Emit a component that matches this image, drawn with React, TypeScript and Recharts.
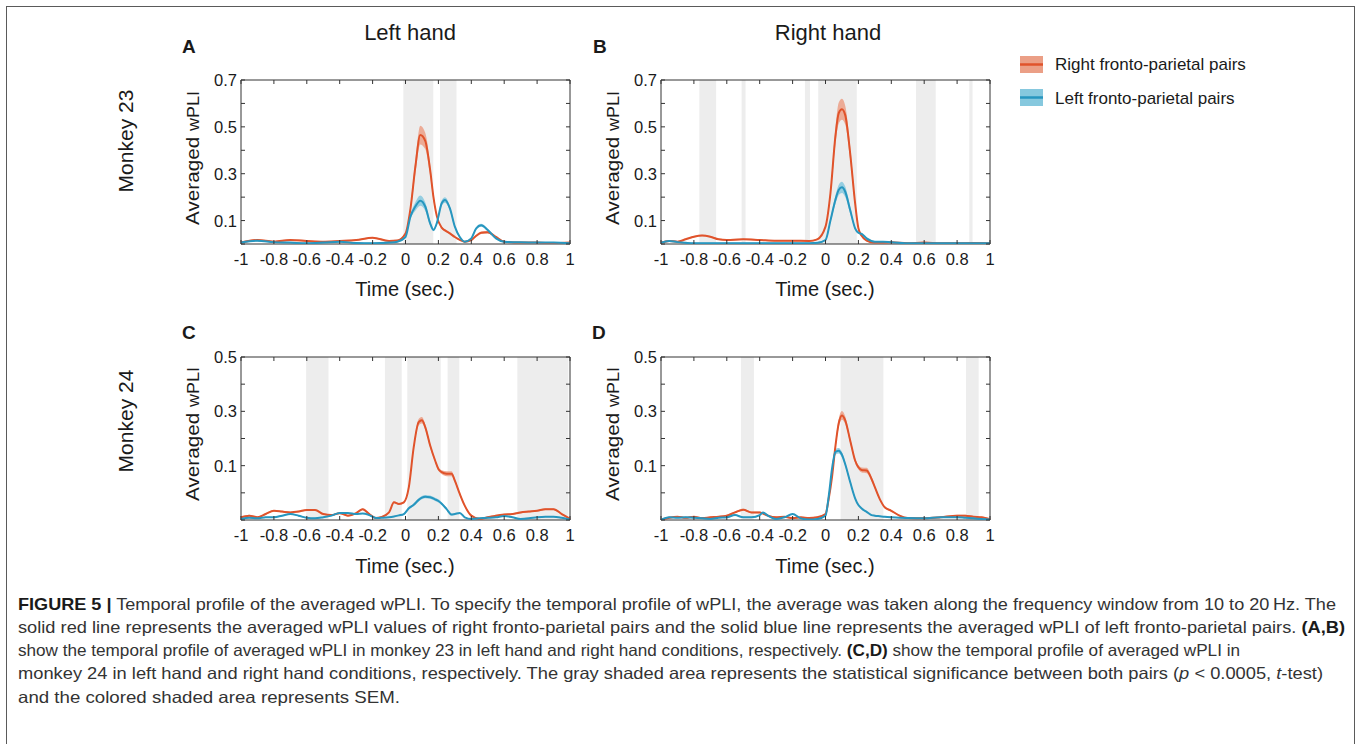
import React from 'react';
import { ComposedChart, Line, Area, XAxis, YAxis, ReferenceArea } from 'recharts';

// axis ticks
const xTicks = [-1, -0.8, -0.6, -0.4, -0.2, 0, 0.2, 0.4, 0.6, 0.8, 1];
const yTicksTop = [0, 0.1, 0.2, 0.3, 0.4, 0.5, 0.6, 0.7];
const yLabelsTop = [0.1, 0.3, 0.5, 0.7];
const yTicksBottom = [-0.1, 0, 0.1, 0.2, 0.3, 0.4, 0.5];
const yLabelsBottom = [0.1, 0.3, 0.5];

// Panel A: monkey 23, left hand
const tA = [-1, -0.9, -0.8, -0.7, -0.6, -0.5, -0.4, -0.3, -0.2, -0.1, -0.05, 0, 0.03, 0.06, 0.09, 0.12, 0.15, 0.17, 0.19, 0.22, 0.24, 0.27, 0.3, 0.33, 0.36, 0.4, 0.43, 0.46, 0.5, 0.55, 0.6, 0.7, 0.8, 0.9, 1];
const redA = [0.006, 0.017, 0.01, 0.017, 0.013, 0.01, 0.013, 0.017, 0.027, 0.013, 0.015, 0.045, 0.15, 0.33, 0.465, 0.44, 0.315, 0.2, 0.12, 0.07, 0.058, 0.045, 0.03, 0.018, 0.01, 0.017, 0.035, 0.048, 0.05, 0.03, 0.01, 0.006, 0.006, 0.003, 0.006];
const semRedA = [0.003, 0.003, 0.003, 0.003, 0.003, 0.003, 0.003, 0.003, 0.003, 0.003, 0.003, 0.004, 0.015, 0.03, 0.04, 0.035, 0.025, 0.012, 0.008, 0.005, 0.004, 0.004, 0.003, 0.003, 0.003, 0.003, 0.004, 0.005, 0.005, 0.004, 0.003, 0.003, 0.003, 0.003, 0.003];
const blueA = [0.006, 0.014, 0.008, 0.006, 0.003, 0.006, 0.01, 0.004, 0.003, 0.006, 0.01, 0.03, 0.117, 0.16, 0.185, 0.16, 0.088, 0.06, 0.088, 0.174, 0.188, 0.152, 0.074, 0.03, 0.01, 0.024, 0.067, 0.08, 0.06, 0.024, 0.01, 0.007, 0.006, 0.006, 0.003];
const semBlueA = [0.003, 0.003, 0.003, 0.003, 0.003, 0.003, 0.003, 0.003, 0.003, 0.003, 0.003, 0.003, 0.01, 0.018, 0.022, 0.018, 0.01, 0.006, 0.008, 0.012, 0.012, 0.01, 0.006, 0.004, 0.003, 0.003, 0.005, 0.006, 0.005, 0.003, 0.003, 0.003, 0.003, 0.003, 0.003];
const shadeA = [[-0.013, 0.169], [0.21, 0.31]];

// Panel B: monkey 23, right hand
const tB = [-1, -0.95, -0.9, -0.85, -0.8, -0.75, -0.7, -0.65, -0.6, -0.5, -0.4, -0.3, -0.2, -0.1, -0.05, 0, 0.03, 0.06, 0.08, 0.1, 0.12, 0.15, 0.18, 0.2, 0.22, 0.25, 0.3, 0.35, 0.4, 0.5, 0.6, 0.7, 0.8, 0.9, 1];
const redB = [0.006, 0.013, 0.01, 0.02, 0.031, 0.036, 0.031, 0.02, 0.017, 0.02, 0.017, 0.014, 0.014, 0.013, 0.02, 0.074, 0.216, 0.458, 0.558, 0.575, 0.55, 0.387, 0.174, 0.067, 0.035, 0.015, 0.006, 0.006, 0.007, 0.003, 0.006, 0.003, 0.003, 0.004, 0.003];
const semRedB = [0.003, 0.003, 0.003, 0.003, 0.003, 0.003, 0.003, 0.003, 0.003, 0.003, 0.003, 0.003, 0.003, 0.003, 0.003, 0.005, 0.015, 0.035, 0.045, 0.045, 0.04, 0.03, 0.012, 0.006, 0.004, 0.003, 0.003, 0.003, 0.003, 0.003, 0.003, 0.003, 0.003, 0.003, 0.003];
const blueB = [0.006, 0.013, 0.008, 0.005, 0.003, 0.003, 0.003, 0.003, 0.003, 0.003, 0.003, 0.003, 0.003, 0.003, 0.005, 0.017, 0.1, 0.188, 0.23, 0.242, 0.223, 0.145, 0.067, 0.048, 0.043, 0.024, 0.01, 0.01, 0.007, 0.003, 0.003, 0.003, 0.003, 0.003, 0.003];
const semBlueB = [0.003, 0.003, 0.003, 0.003, 0.003, 0.003, 0.003, 0.003, 0.003, 0.003, 0.003, 0.003, 0.003, 0.003, 0.003, 0.003, 0.01, 0.018, 0.022, 0.024, 0.022, 0.015, 0.006, 0.004, 0.003, 0.003, 0.003, 0.003, 0.003, 0.003, 0.003, 0.003, 0.003, 0.003, 0.003];
const shadeB = [[-0.767, -0.665], [-0.51, -0.486], [-0.125, -0.094], [-0.044, 0.19], [0.55, 0.67], [0.874, 0.894]];

// Panel C: monkey 24, left hand
const tC = [-1, -0.95, -0.9, -0.85, -0.8, -0.75, -0.7, -0.65, -0.6, -0.55, -0.5, -0.45, -0.4, -0.35, -0.3, -0.26, -0.22, -0.18, -0.15, -0.1, -0.07, -0.04, -0.01, 0.02, 0.05, 0.08, 0.1, 0.12, 0.15, 0.18, 0.2, 0.22, 0.25, 0.28, 0.3, 0.33, 0.36, 0.4, 0.45, 0.5, 0.55, 0.6, 0.65, 0.7, 0.75, 0.8, 0.85, 0.9, 0.95, 1];
const redC = [-0.09, -0.084, -0.09, -0.078, -0.066, -0.069, -0.072, -0.069, -0.063, -0.063, -0.078, -0.082, -0.075, -0.084, -0.075, -0.06, -0.078, -0.093, -0.09, -0.072, -0.035, -0.041, -0.035, 0.02, 0.168, 0.26, 0.267, 0.242, 0.174, 0.119, 0.088, 0.076, 0.07, 0.07, 0.045, -0.004, -0.047, -0.084, -0.096, -0.09, -0.084, -0.08, -0.078, -0.072, -0.069, -0.066, -0.06, -0.06, -0.078, -0.096];
const semRedC = [0.003, 0.003, 0.003, 0.003, 0.003, 0.003, 0.003, 0.003, 0.003, 0.003, 0.003, 0.003, 0.003, 0.003, 0.003, 0.003, 0.003, 0.003, 0.003, 0.003, 0.003, 0.003, 0.003, 0.005, 0.008, 0.012, 0.012, 0.01, 0.008, 0.006, 0.006, 0.007, 0.009, 0.009, 0.007, 0.005, 0.004, 0.003, 0.003, 0.003, 0.003, 0.003, 0.003, 0.003, 0.003, 0.003, 0.003, 0.003, 0.003, 0.003];
const blueC = [-0.096, -0.092, -0.094, -0.09, -0.09, -0.084, -0.078, -0.084, -0.092, -0.094, -0.09, -0.084, -0.074, -0.074, -0.078, -0.076, -0.082, -0.093, -0.092, -0.09, -0.087, -0.083, -0.078, -0.057, -0.044, -0.026, -0.018, -0.014, -0.016, -0.024, -0.03, -0.04, -0.06, -0.08, -0.078, -0.074, -0.09, -0.096, -0.094, -0.092, -0.09, -0.085, -0.09, -0.096, -0.094, -0.09, -0.088, -0.088, -0.092, -0.098];
const semBlueC = [0.002, 0.002, 0.002, 0.002, 0.002, 0.002, 0.002, 0.002, 0.002, 0.002, 0.002, 0.002, 0.002, 0.002, 0.002, 0.002, 0.002, 0.002, 0.002, 0.002, 0.002, 0.002, 0.003, 0.004, 0.005, 0.006, 0.006, 0.006, 0.006, 0.006, 0.006, 0.005, 0.004, 0.003, 0.003, 0.002, 0.002, 0.002, 0.002, 0.002, 0.002, 0.002, 0.002, 0.002, 0.002, 0.002, 0.002, 0.002, 0.002, 0.002];
const shadeC = [[-0.604, -0.468], [-0.125, -0.023], [0.011, 0.214], [0.256, 0.327], [0.68, 0.99]];

// Panel D: monkey 24, right hand
const tD = [-1, -0.95, -0.9, -0.85, -0.8, -0.75, -0.7, -0.65, -0.6, -0.55, -0.5, -0.45, -0.4, -0.38, -0.35, -0.3, -0.25, -0.2, -0.15, -0.1, -0.05, 0, 0.02, 0.04, 0.06, 0.08, 0.1, 0.12, 0.15, 0.18, 0.2, 0.22, 0.25, 0.28, 0.3, 0.33, 0.36, 0.4, 0.45, 0.5, 0.6, 0.7, 0.8, 0.85, 0.9, 0.95, 1];
const redD = [-0.1, -0.092, -0.088, -0.092, -0.088, -0.093, -0.09, -0.088, -0.084, -0.072, -0.062, -0.072, -0.072, -0.076, -0.084, -0.09, -0.088, -0.093, -0.09, -0.093, -0.09, -0.078, -0.02, 0.06, 0.17, 0.255, 0.285, 0.267, 0.193, 0.119, 0.094, 0.084, 0.082, 0.051, 0.021, -0.023, -0.053, -0.066, -0.084, -0.093, -0.094, -0.09, -0.084, -0.084, -0.088, -0.09, -0.097];
const semRedD = [0.003, 0.003, 0.003, 0.003, 0.003, 0.003, 0.003, 0.003, 0.003, 0.003, 0.003, 0.003, 0.003, 0.003, 0.003, 0.003, 0.003, 0.003, 0.003, 0.003, 0.003, 0.003, 0.004, 0.006, 0.012, 0.016, 0.016, 0.014, 0.01, 0.008, 0.008, 0.009, 0.01, 0.008, 0.006, 0.004, 0.003, 0.003, 0.003, 0.003, 0.003, 0.003, 0.003, 0.003, 0.003, 0.003, 0.003];
const blueD = [-0.1, -0.09, -0.092, -0.09, -0.092, -0.094, -0.096, -0.092, -0.09, -0.082, -0.09, -0.09, -0.082, -0.072, -0.084, -0.096, -0.09, -0.078, -0.094, -0.098, -0.096, -0.084, -0.01, 0.09, 0.15, 0.155, 0.14, 0.105, 0.04, -0.02, -0.045, -0.058, -0.07, -0.082, -0.084, -0.086, -0.088, -0.09, -0.092, -0.093, -0.094, -0.09, -0.09, -0.092, -0.094, -0.096, -0.098];
const semBlueD = [0.002, 0.002, 0.002, 0.002, 0.002, 0.002, 0.002, 0.002, 0.002, 0.002, 0.002, 0.002, 0.002, 0.002, 0.002, 0.002, 0.002, 0.002, 0.002, 0.002, 0.002, 0.002, 0.004, 0.008, 0.01, 0.01, 0.01, 0.008, 0.006, 0.004, 0.003, 0.003, 0.002, 0.002, 0.002, 0.002, 0.002, 0.002, 0.002, 0.002, 0.002, 0.002, 0.002, 0.002, 0.002, 0.002, 0.002];
const shadeD = [[-0.514, -0.435], [0.092, 0.352], [0.854, 0.931]];

const RED = '#e0532b';
const RED_BAND = '#eb9f86';
const BLUE = '#2796bf';
const BLUE_BAND = '#86c8de';
const SHADE = '#ededed';
const INK = '#1a1a1a';
const FONT = '"Liberation Sans", Arial, Helvetica, sans-serif';
const PLOT_W = 329;

const buildRows = (t: number[], red: number[], redSem: number[], blue: number[], blueSem: number[]) =>
  t.map((time, i) => ({
    time,
    red: red[i],
    blue: blue[i],
    redBand: [red[i] - redSem[i], red[i] + redSem[i]],
    blueBand: [blue[i] - blueSem[i], blue[i] + blueSem[i]],
  }));

const XTick = ({ x, y, payload, h }: any) => (
  <g>
    <line x1={x} x2={x} y1={y} y2={y - 4} stroke="#333" />
    <line x1={x} x2={x} y1={y - h} y2={y - h + 4} stroke="#333" />
    <text x={x} y={y + 21} textAnchor="middle" fontSize={16.5} fontFamily={FONT} fill={INK}>
      {String(payload.value)}
    </text>
  </g>
);

const YTick = ({ x, y, payload, labels }: any) => (
  <g>
    <line x1={x} x2={x + 4} y1={y} y2={y} stroke="#333" />
    <line x1={x + PLOT_W - 4} x2={x + PLOT_W} y1={y} y2={y} stroke="#333" />
    {labels.includes(payload.value) && (
      <text x={x - 4} y={y + 6} textAnchor="end" fontSize={16.5} fontFamily={FONT} fill={INK}>
        {String(payload.value)}
      </text>
    )}
  </g>
);

interface PanelProps {
  left: number;
  top: number;
  plotH: number;
  rows: any[];
  shade: number[][];
  domain: [number, number];
  yTicks: number[];
  yLabels: number[];
}

const Panel: React.FC<PanelProps> = ({ left, top, plotH, rows, shade, domain, yTicks, yLabels }) => {
  const ml = 50, mt = 12, mr = 12, xh = 40;
  return (
    <div style={{ position: 'absolute', left: left - ml, top: top - mt }}>
      <ComposedChart width={PLOT_W + ml + mr} height={plotH + mt + xh} data={rows} margin={{ top: mt, right: mr, bottom: 0, left: 0 }}>
        <XAxis
          dataKey="time" type="number" domain={[-1, 1]} ticks={xTicks} interval={0} height={xh}
          tickSize={0} tickMargin={0} axisLine={false} tickLine={false}
          tick={(p: any) => <XTick {...p} h={plotH} />}
        />
        <YAxis
          type="number" domain={domain} ticks={yTicks} interval={0} width={ml} allowDataOverflow
          tickSize={0} tickMargin={0} axisLine={false} tickLine={false}
          tick={(p: any) => <YTick {...p} labels={yLabels} />}
        />
        {shade.map(([a, b], i) => (
          <ReferenceArea key={i} x1={a} x2={b} y1={domain[0]} y2={domain[1]} fill={SHADE} fillOpacity={1} stroke="none" />
        ))}
        <Area type="monotone" dataKey="redBand" stroke="none" fill={RED_BAND} fillOpacity={0.85} isAnimationActive={false} />
        <Area type="monotone" dataKey="blueBand" stroke="none" fill={BLUE_BAND} fillOpacity={0.85} isAnimationActive={false} />
        <Line type="monotone" dataKey="red" stroke={RED} strokeWidth={2} dot={false} isAnimationActive={false} />
        <Line type="monotone" dataKey="blue" stroke={BLUE} strokeWidth={2} dot={false} isAnimationActive={false} />
        <ReferenceArea x1={-1} x2={1} y1={domain[0]} y2={domain[1]} fill="none" stroke="#333" strokeWidth={1} />
      </ComposedChart>
    </div>
  );
};

const YLabel = ({ x, cy }: { x: number; cy: number }) => (
  <text x={x} y={cy} transform={`rotate(-90, ${x}, ${cy})`} textAnchor="middle" fontFamily={FONT} fill={INK}
    textLength={134} lengthAdjust="spacingAndGlyphs">
    <tspan fontSize={19}>Averaged </tspan>
    <tspan fontSize={16.5}>wPLI</tspan>
  </text>
);

export default function App() {
  const rowsA = buildRows(tA, redA, semRedA, blueA, semBlueA);
  const rowsB = buildRows(tB, redB, semRedB, blueB, semBlueB);
  const rowsC = buildRows(tC, redC, semRedC, blueC, semBlueC);
  const rowsD = buildRows(tD, redD, semRedD, blueD, semBlueD);

  return (
    <div style={{ position: 'absolute', left: 0, top: 0, width: 1360, height: 744, background: '#fff', overflow: 'hidden' }}>
      <div style={{ position: 'absolute', left: 6, top: 6, width: 1349, height: 800, border: '1.5px solid #5a5a5a', boxSizing: 'border-box' }} />

      <Panel left={241} top={80} plotH={164} rows={rowsA} shade={shadeA} domain={[0, 0.7]} yTicks={yTicksTop} yLabels={yLabelsTop} />
      <Panel left={661} top={80} plotH={164} rows={rowsB} shade={shadeB} domain={[0, 0.7]} yTicks={yTicksTop} yLabels={yLabelsTop} />
      <Panel left={241} top={357} plotH={163} rows={rowsC} shade={shadeC} domain={[-0.1, 0.5]} yTicks={yTicksBottom} yLabels={yLabelsBottom} />
      <Panel left={661} top={357} plotH={163} rows={rowsD} shade={shadeD} domain={[-0.1, 0.5]} yTicks={yTicksBottom} yLabels={yLabelsBottom} />

      <svg width={1360} height={744} style={{ position: 'absolute', left: 0, top: 0, pointerEvents: 'none' }}>
        <g fontFamily={FONT} fill={INK}>
          <text x={410} y={40} textAnchor="middle" fontSize={22}>Left hand</text>
          <text x={828} y={40} textAnchor="middle" fontSize={22}>Right hand</text>

          <text x={182} y={53} fontSize={19} fontWeight="bold">A</text>
          <text x={593} y={53} fontSize={19} fontWeight="bold">B</text>
          <text x={182} y={339} fontSize={19} fontWeight="bold">C</text>
          <text x={592} y={339} fontSize={19} fontWeight="bold">D</text>

          <text x={133} y={141} transform="rotate(-90, 133, 141)" textAnchor="middle" fontSize={21}>Monkey 23</text>
          <text x={133} y={421} transform="rotate(-90, 133, 421)" textAnchor="middle" fontSize={21}>Monkey 24</text>

          <YLabel x={199} cy={158} />
          <YLabel x={619} cy={158} />
          <YLabel x={199} cy={434} />
          <YLabel x={619} cy={434} />

          <text x={405} y={296} textAnchor="middle" fontSize={20}>Time (sec.)</text>
          <text x={825} y={296} textAnchor="middle" fontSize={20}>Time (sec.)</text>
          <text x={405} y={573} textAnchor="middle" fontSize={20}>Time (sec.)</text>
          <text x={825} y={573} textAnchor="middle" fontSize={20}>Time (sec.)</text>
        </g>

        {/* legend */}
        <rect x={1020} y={56} width={23} height={17} fill={RED_BAND} />
        <line x1={1020} x2={1043} y1={64.5} y2={64.5} stroke={RED} strokeWidth={2.5} />
        <text x={1055} y={70} fontSize={17} fontFamily={FONT} fill={INK}>Right fronto-parietal pairs</text>
        <rect x={1020} y={89} width={23} height={17} fill={BLUE_BAND} />
        <line x1={1020} x2={1043} y1={97.5} y2={97.5} stroke={BLUE} strokeWidth={2.5} />
        <text x={1055} y={103.5} fontSize={17} fontFamily={FONT} fill={INK}>Left fronto-parietal pairs</text>

        {/* caption */}
        <g fontFamily='"Liberation Sans Narrow", "Liberation Sans", Arial, sans-serif' fontSize={16.5} fill="#333">
          <text x={18} y={609.5} textLength={1318} lengthAdjust="spacingAndGlyphs">
            <tspan fontWeight="bold" fill={INK}>FIGURE 5 |</tspan>
            {' Temporal profile of the averaged wPLI. To specify the temporal profile of wPLI, the average was taken along the frequency window from 10 to 20\u2009Hz. The'}
          </text>
          <text x={18} y={632.8} textLength={1327} lengthAdjust="spacingAndGlyphs">
            {'solid red line represents the averaged wPLI values of right fronto-parietal pairs and the solid blue line represents the averaged wPLI of left fronto-parietal pairs. '}
            <tspan fontWeight="bold" fill={INK}>(A,B)</tspan>
          </text>
          <text x={18} y={656.1} textLength={1222} lengthAdjust="spacingAndGlyphs">
            {'show the temporal profile of averaged wPLI in monkey 23 in left hand and right hand conditions, respectively. '}
            <tspan fontWeight="bold" fill={INK}>(C,D)</tspan>
            {' show the temporal profile of averaged wPLI in'}
          </text>
          <text x={18} y={679.4} textLength={1305} lengthAdjust="spacingAndGlyphs">
            {'monkey 24 in left hand and right hand conditions, respectively. The gray shaded area represents the statistical significance between both pairs ('}
            <tspan fontStyle="italic">p</tspan>
            {' < 0.0005, '}
            <tspan fontStyle="italic">t</tspan>
            {'-test)'}
          </text>
          <text x={18} y={702.7} textLength={382} lengthAdjust="spacingAndGlyphs">
            and the colored shaded area represents SEM.
          </text>
        </g>
      </svg>
    </div>
  );
}
